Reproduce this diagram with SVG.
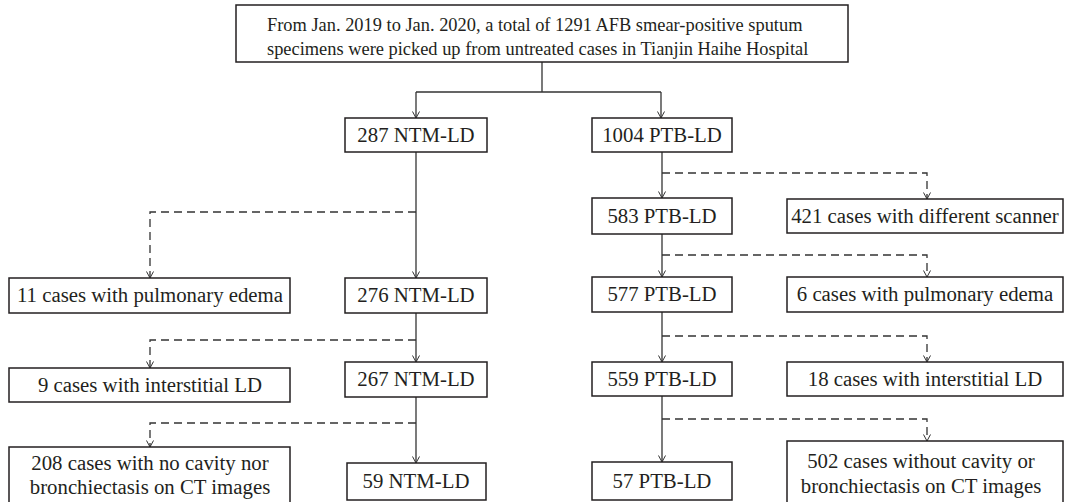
<svg xmlns="http://www.w3.org/2000/svg" width="1066" height="502" viewBox="0 0 1066 502">
<style>
.box{fill:#fff;stroke:#231f20;stroke-width:1.5}
.t{font-family:"Liberation Serif",serif;font-size:20.8px;fill:#231f20;text-anchor:middle}
.tt{font-family:"Liberation Serif",serif;font-size:18.4px;fill:#231f20}
.s{fill:none;stroke:#333;stroke-width:1.3}
.d{fill:none;stroke:#333;stroke-width:1.3;stroke-dasharray:8,5}
</style>
<defs>
<marker id="ah" markerWidth="10" markerHeight="10" refX="7.5" refY="4" orient="auto" markerUnits="userSpaceOnUse" viewBox="0 0 10 8">
<path d="M1,0.5 L7.5,4 L1,7.5" fill="none" stroke="#333" stroke-width="1"/>
</marker>
</defs>
<rect width="1066" height="502" fill="#fff"/>
<g id="connectors">
<path class="s" d="M542,62 V92 M416,92 H661"/>
<path class="s" d="M416,92 V118" marker-end="url(#ah)"/>
<path class="s" d="M661,92 V118" marker-end="url(#ah)"/>
<path class="s" d="M416,152 V278" marker-end="url(#ah)"/>
<path class="d" d="M416,212 H150 V278" marker-end="url(#ah)"/>
<path class="s" d="M416,313 V362" marker-end="url(#ah)"/>
<path class="d" d="M416,340 H150 V368" marker-end="url(#ah)"/>
<path class="s" d="M416,397 V463" marker-end="url(#ah)"/>
<path class="d" d="M416,423 H150 V447" marker-end="url(#ah)"/>
<path class="s" d="M662,152 V198" marker-end="url(#ah)"/>
<path class="d" d="M662,173 H927 V199" marker-end="url(#ah)"/>
<path class="s" d="M662,234 V277" marker-end="url(#ah)"/>
<path class="d" d="M662,255 H927 V277" marker-end="url(#ah)"/>
<path class="s" d="M662,312 V362" marker-end="url(#ah)"/>
<path class="d" d="M662,336 H927 V362" marker-end="url(#ah)"/>
<path class="s" d="M662,396 V462" marker-end="url(#ah)"/>
<path class="d" d="M662,419 H927 V441" marker-end="url(#ah)"/>
</g>
<g id="n_top"><rect class="box" x="236" y="5" width="612" height="57"/>
<text class="tt" x="267" y="31">From Jan. 2019 to Jan. 2020, a total of 1291 AFB smear-positive sputum</text>
<text class="tt" x="267" y="55">specimens were picked up from untreated cases in Tianjin Haihe Hospital</text></g>
<g id="n287"><rect class="box" x="345" y="118" width="142" height="34"/><text class="t" x="416" y="142">287 NTM-LD</text></g>
<g id="n1004"><rect class="box" x="592" y="118" width="140" height="34"/><text class="t" x="662" y="142">1004 PTB-LD</text></g>
<g id="n583"><rect class="box" x="592" y="198" width="140" height="36"/><text class="t" x="662" y="223">583 PTB-LD</text></g>
<g id="n421"><rect class="box" x="787" y="199" width="276" height="34"/><text class="t" x="925" y="223">421 cases with different scanner</text></g>
<g id="n11"><rect class="box" x="9" y="278" width="281" height="35"/><text class="t" x="150" y="302">11 cases with pulmonary edema</text></g>
<g id="n276"><rect class="box" x="345" y="278" width="142" height="35"/><text class="t" x="416" y="302">276 NTM-LD</text></g>
<g id="n577"><rect class="box" x="592" y="277" width="140" height="35"/><text class="t" x="662" y="301">577 PTB-LD</text></g>
<g id="n6"><rect class="box" x="787" y="277" width="276" height="35"/><text class="t" x="925" y="301">6 cases with pulmonary edema</text></g>
<g id="n267"><rect class="box" x="345" y="362" width="142" height="35"/><text class="t" x="416" y="386">267 NTM-LD</text></g>
<g id="n9"><rect class="box" x="9" y="368" width="281" height="34"/><text class="t" x="150" y="392">9 cases with interstitial LD</text></g>
<g id="n559"><rect class="box" x="592" y="362" width="140" height="34"/><text class="t" x="662" y="386">559 PTB-LD</text></g>
<g id="n18"><rect class="box" x="787" y="362" width="276" height="34"/><text class="t" x="925" y="386">18 cases with interstitial LD</text></g>
<g id="n208"><rect class="box" x="9" y="447" width="281" height="56"/><text class="t" x="150" y="470">208 cases with no cavity nor</text><text class="t" x="150" y="494">bronchiectasis on CT images</text></g>
<g id="n59"><rect class="box" x="347" y="463" width="139" height="37"/><text class="t" x="416" y="488">59 NTM-LD</text></g>
<g id="n57"><rect class="box" x="592" y="462" width="140" height="38"/><text class="t" x="662" y="488">57 PTB-LD</text></g>
<g id="n502"><rect class="box" x="787" y="441" width="276" height="62"/><text class="t" x="921" y="468">502 cases without cavity or</text><text class="t" x="921" y="493">bronchiectasis on CT images</text></g>
</svg>
